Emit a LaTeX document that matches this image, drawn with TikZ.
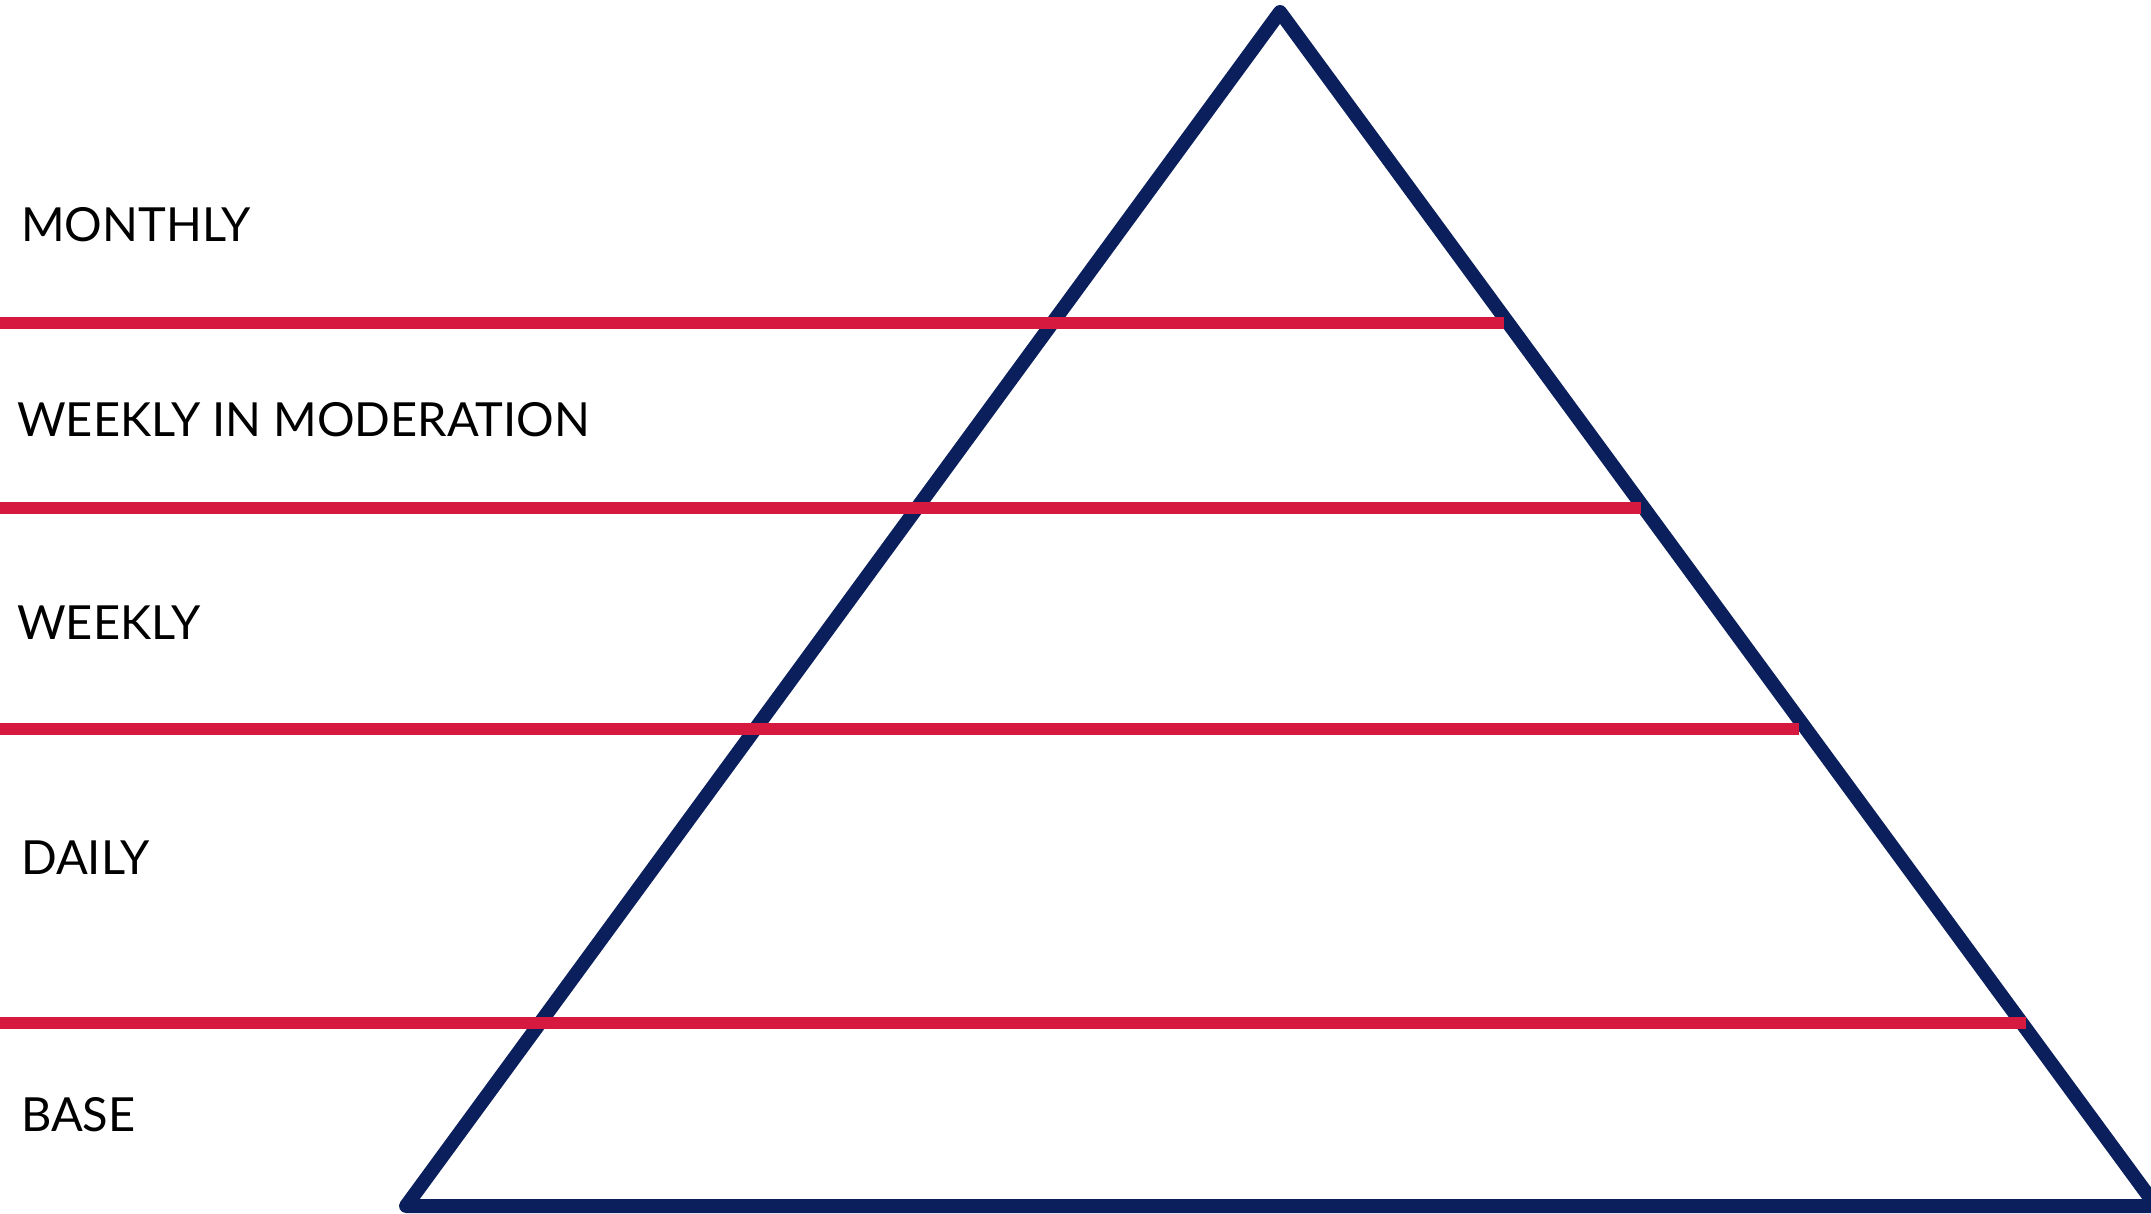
\documentclass[tikz,border=0pt]{standalone}
\usepackage{fontspec}
\setmainfont{Lato}
\definecolor{navy}{HTML}{0A1F5C}
\definecolor{crimson}{HTML}{D6193F}
\begin{document}
\begin{tikzpicture}[x=1pt,y=-1pt,
  edge/.style={draw=navy,line width=14pt,line join=round},
  band/.style={draw=crimson,line width=12pt},
  lbl/.style={anchor=base west,inner sep=0pt,font=\fontsize{47}{52}\selectfont}]
\useasboundingbox (0,0) rectangle (2151,1213);
\coordinate (apex) at (1280,12);
\coordinate (bl) at (406,1206);
\coordinate (br) at (2156,1206);
\coordinate (s1) at (0,322.5);
\coordinate (e1) at (1504,322.5);
\coordinate (s2) at (0,507.5);
\coordinate (e2) at (1641,507.5);
\coordinate (s3) at (0,728.5);
\coordinate (e3) at (1799,728.5);
\coordinate (s4) at (0,1022.5);
\coordinate (e4) at (2026,1022.5);
\draw[edge] (apex) -- (bl) -- (br) -- cycle;
\draw[band] (s1) -- (e1);
\draw[band] (s2) -- (e2);
\draw[band] (s3) -- (e3);
\draw[band] (s4) -- (e4);
\node[lbl] (monthly) at (21,241) {MONTHLY};
\node[lbl] (wim) at (17,436) {WEEKLY IN MODERATION};
\node[lbl] (weekly) at (17,639) {WEEKLY};
\node[lbl] (daily) at (21,874) {DAILY};
\node[lbl] (base) at (21,1131) {BASE};
\end{tikzpicture}
\end{document}
